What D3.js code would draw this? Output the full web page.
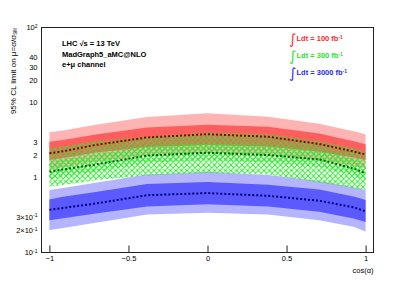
<!DOCTYPE html>
<html>
<head>
<meta charset="utf-8">
<script src="https://cdn.jsdelivr.net/npm/d3@7"></script>
<style>
	body { margin: 0; background: #fff; }
	svg { display: block; font-family: "Liberation Sans", Arial, Helvetica, sans-serif; }
</style>
</head>
<body>
<div id="js_chart"></div>
<script>
/*globals d3*/
'use strict';

// cos(alpha) scan points
const cosAlpha = [-1, -0.924, -0.707, -0.383, 0, 0.383, 0.707, 0.924, 1];

// 100 fb-1 (red)
const med100 = [2.10, 2.22, 2.72, 3.42, 3.78, 3.49, 2.80, 2.22, 2.03];
const up1_100 = [3.00, 3.15, 3.75, 4.65, 5.05, 4.75, 3.85, 3.05, 2.77];
const dn1_100 = [1.71, 1.80, 2.15, 2.55, 2.72, 2.60, 2.20, 1.85, 1.71];
const up2_100 = [4.00, 4.20, 5.05, 6.40, 7.20, 6.45, 5.20, 4.15, 3.78];
const dn2_100 = [1.26, 1.35, 1.62, 1.98, 2.10, 2.00, 1.70, 1.42, 1.32];

// 300 fb-1 (green)
const med300 = [1.19, 1.27, 1.49, 1.96, 2.14, 1.99, 1.74, 1.32, 1.13];
const up1_300 = [1.60, 1.71, 2.01, 2.65, 2.89, 2.69, 2.35, 1.78, 1.53];
const dn1_300 = [0.95, 1.02, 1.19, 1.57, 1.71, 1.59, 1.39, 1.06, 0.90];
const up2_300 = [2.45, 2.58, 3.05, 3.50, 3.97, 3.80, 3.05, 2.45, 2.21];
const dn2_300 = [0.75, 0.79, 0.92, 1.06, 1.15, 1.10, 0.86, 0.72, 0.68];

// 3000 fb-1 (blue)
const med3000 = [0.37, 0.39, 0.45, 0.58, 0.62, 0.57, 0.49, 0.40, 0.355];
const up1_3000 = [0.51, 0.55, 0.64, 0.82, 0.87, 0.80, 0.69, 0.56, 0.50];
const dn1_3000 = [0.27, 0.285, 0.33, 0.41, 0.44, 0.41, 0.35, 0.285, 0.255];
const up2_3000 = [0.68, 0.72, 0.85, 1.10, 1.19, 1.08, 0.90, 0.74, 0.68];
const dn2_3000 = [0.20, 0.21, 0.25, 0.32, 0.34, 0.32, 0.27, 0.22, 0.19];

// axis ticks
const xMajor = [-1, -0.5, 0, 0.5, 1];
const xLabels = ['\u22121', '\u22120.5', '0', '0.5', '1'];
const yLabelValues = [0.1, 0.2, 0.3, 1, 2, 3, 10, 20, 30, 40, 100];
const yLabelText = ['10^-1', '2\u00d710^-1', '3\u00d710^-1', '1', '2', '3', '10', '20', '30', '40', '10^2'];
const yMajor = [0.1, 1, 10, 100];

const legendLumi = ['100', '300', '3000'];
const legendColor = ['#ff2a2a', '#2ee02e', '#2a2aff'];

const width = 415, height = 281;
const frame = { left: 41.5, right: 373.5, top: 27.5, bottom: 252.5 };

const svg = d3.select('#js_chart').append('svg')
	.attr('width', width)
	.attr('height', height);

const x = d3.scaleLinear().domain([-1.05, 1.05]).range([frame.left, frame.right]);
const y = d3.scaleLog().domain([0.1, 100]).range([frame.bottom, frame.top]);

// hatch pattern for the 300 fb-1 bands
svg.append('defs').append('pattern')
	.attr('id', 'xhatch')
	.attr('patternUnits', 'userSpaceOnUse')
	.attr('width', 5.5).attr('height', 5.5)
	.call(function (p) {
		p.append('path').attr('d', 'M0,0L5.5,5.5M0,5.5L5.5,0M-1,1L1,-1M4.5,6.5L6.5,4.5M-1,4.5L1,6.5M4.5,-1L6.5,1')
			.style('stroke', '#2ee82e').style('stroke-width', 1).style('fill', 'none');
	});

function band(lo, hi) {
	return d3.area()
		.x(function (d, i) { return x(cosAlpha[i]); })
		.y0(function (d, i) { return y(lo[i]); })
		.y1(function (d, i) { return y(hi[i]); })(cosAlpha);
}

function medianLine(vals, color) {
	svg.append('path')
		.attr('d', d3.line()
			.x(function (d, i) { return x(cosAlpha[i]); })
			.y(function (d, i) { return y(vals[i]); })(cosAlpha))
		.style('fill', 'none')
		.style('stroke', color)
		.style('stroke-width', 2)
		.style('stroke-dasharray', '2,2');
}

// red bands
svg.append('path').attr('d', band(dn2_100, up2_100)).style('fill', '#ffb4b4');
svg.append('path').attr('d', band(dn1_100, up1_100)).style('fill', '#ff5e5e');
// blue bands
svg.append('path').attr('d', band(dn2_3000, up2_3000)).style('fill', '#b4b4ff');
svg.append('path').attr('d', band(dn1_3000, up1_3000)).style('fill', '#5a5aff');
// green hatched bands
svg.append('path').attr('d', band(dn2_300, up2_300)).style('fill', 'url(#xhatch)');
svg.append('path').attr('d', band(dn1_300, up1_300)).style('fill', 'url(#xhatch)');

medianLine(med100, '#8a0000');
medianLine(med300, '#006000');
medianLine(med3000, '#00007a');

// frame
svg.append('rect')
	.attr('x', frame.left).attr('y', frame.top)
	.attr('width', frame.right - frame.left)
	.attr('height', frame.bottom - frame.top)
	.style('fill', 'none').style('stroke', '#222').style('stroke-width', 1);

// x axis ticks (inside)
let xMinor = d3.range(-10, 11).map(function (k) { return k / 10; });
let gx = svg.append('g').attr('transform', 'translate(0,' + frame.bottom + ')');
gx.call(d3.axisBottom(x).tickValues(xMinor).tickSizeInner(-3.5).tickSizeOuter(0).tickFormat(''));
gx.call(d3.axisBottom(x).tickValues(xMajor).tickSizeInner(-7).tickSizeOuter(0).tickPadding(3)
	.tickFormat(function (d, i) { return xLabels[i]; }));
gx.selectAll('.domain').remove();
gx.selectAll('line').style('stroke', '#222');
gx.selectAll('text').style('font-size', '7.5px').style('fill', '#000').attr('font-family', null);

// y axis ticks (inside)
let yMinor = [];
[0.1, 1, 10].forEach(function (b) {
	for (let k = 2; k <= 9; k++) { yMinor.push(b * k); }
});
let gy = svg.append('g').attr('transform', 'translate(' + frame.left + ',0)');
gy.call(d3.axisLeft(y).tickValues(yMinor).tickSizeInner(-5).tickSizeOuter(0).tickFormat(''));
gy.call(d3.axisLeft(y).tickValues(yMajor).tickSizeInner(-9).tickSizeOuter(0).tickFormat(''));
gy.call(d3.axisLeft(y).tickValues(yLabelValues).tickSizeInner(0).tickSizeOuter(0).tickPadding(4)
	.tickFormat(function (d, i) { return yLabelText[i]; }));
gy.selectAll('.domain').remove();
gy.selectAll('line').style('stroke', '#222');
gy.selectAll('text').style('font-size', '7.5px').style('fill', '#000').attr('font-family', null)
	.each(function () {
		let t = d3.select(this);
		let s = t.text();
		if (s.indexOf('^') < 0) { return; }
		let parts = s.split('^');
		t.text(null);
		t.append('tspan').text(parts[0]);
		t.append('tspan').attr('dy', '-0.45em').style('font-size', '5px').text(parts[1]);
	});

// axis titles
svg.append('text')
	.attr('x', frame.right).attr('y', 273)
	.style('text-anchor', 'end').style('font-size', '7.5px')
	.text('cos(\u03b1)');

let yTitle = svg.append('text')
	.attr('transform', 'translate(16,28) rotate(-90)')
	.style('text-anchor', 'end').style('font-size', '8px');
yTitle.append('tspan').text('95% CL limit on \u03bc=\u03c3/\u03c3');
yTitle.append('tspan').attr('dy', '0.3em').style('font-size', '4.5px').text('SM');

// annotation
const infoLines = ['LHC  \u221as = 13 TeV', 'MadGraph5_aMC@NLO', 'e+\u03bc channel'];
svg.selectAll('.info').data(infoLines).enter().append('text')
	.classed('info', true)
	.attr('x', 62).attr('y', function (d, i) { return 46 + i * 10.5; })
	.style('font-size', '7.5px').style('font-weight', 'bold')
	.text(function (d) { return d; });

// legend
let leg = svg.selectAll('.leg').data(legendLumi).enter().append('g')
	.classed('leg', true)
	.attr('transform', function (d, i) { return 'translate(290,' + (41 + i * 17) + ')'; });
leg.append('text')
	.attr('x', -1).attr('y', 3)
	.style('font-size', '14px').style('fill', function (d, i) { return legendColor[i]; })
	.attr('font-family', 'DejaVu Sans')
	.text('\u222b');
let legText = leg.append('text')
	.attr('x', 6.5).attr('y', 0)
	.style('font-size', '7.5px').style('font-weight', 'bold')
	.style('fill', function (d, i) { return legendColor[i]; });
legText.append('tspan').text(function (d) { return 'Ldt = ' + d + ' fb'; });
legText.append('tspan').attr('dy', '-0.5em').style('font-size', '5px').text('-1');
</script>
</body>
</html>
